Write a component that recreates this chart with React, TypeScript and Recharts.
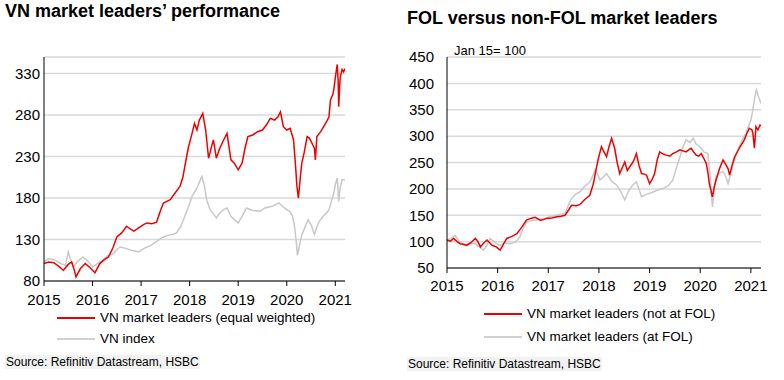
import { CartesianGrid, Line, LineChart, XAxis, YAxis } from 'recharts';

type Pt = [number, number];

const yearTicks = [2015, 2016, 2017, 2018, 2019, 2020, 2021];
const perfTicks = [80, 130, 180, 230, 280, 330];
const folTicks = [50, 100, 150, 200, 250, 300, 350, 400, 450];

// left: VN market leaders (equal weighted)
const leadersEqual: Pt[] = [
  [2015.0, 101], [2015.1, 103], [2015.2, 102], [2015.3, 98], [2015.4, 93], [2015.5, 100], [2015.57, 103],
  [2015.62, 94], [2015.66, 85], [2015.75, 95], [2015.85, 101], [2015.95, 96], [2016.05, 90], [2016.15, 101],
  [2016.25, 106], [2016.33, 109], [2016.42, 120], [2016.5, 133], [2016.6, 138], [2016.7, 146], [2016.77, 143],
  [2016.85, 140], [2016.95, 144], [2017.05, 148], [2017.12, 150], [2017.22, 149], [2017.32, 151], [2017.4, 165],
  [2017.46, 174], [2017.53, 176], [2017.6, 178], [2017.7, 186], [2017.8, 194], [2017.86, 205], [2017.9, 218],
  [2017.97, 240], [2018.05, 258], [2018.1, 270], [2018.15, 262], [2018.2, 274], [2018.27, 282], [2018.33, 262],
  [2018.39, 228], [2018.45, 242], [2018.49, 250], [2018.55, 228], [2018.62, 240], [2018.7, 250], [2018.77, 258],
  [2018.85, 226], [2018.92, 222], [2019.0, 214], [2019.08, 222], [2019.14, 240], [2019.2, 254], [2019.3, 256],
  [2019.4, 260], [2019.5, 262], [2019.58, 268], [2019.66, 276], [2019.75, 274], [2019.82, 278], [2019.87, 284],
  [2019.93, 266], [2020.0, 262], [2020.07, 264], [2020.14, 250], [2020.18, 220], [2020.21, 194], [2020.24, 180],
  [2020.28, 205], [2020.31, 222], [2020.36, 235], [2020.42, 254], [2020.47, 252], [2020.52, 246], [2020.57, 240],
  [2020.59, 226], [2020.62, 254], [2020.7, 260], [2020.76, 266], [2020.82, 272], [2020.87, 278], [2020.9, 298],
  [2020.95, 305], [2020.97, 311], [2021.0, 325], [2021.04, 341], [2021.06, 320], [2021.07, 290], [2021.1, 325],
  [2021.14, 335], [2021.17, 332], [2021.2, 336],
];

// left: VN index
const vnIndex: Pt[] = [
  [2015.0, 103], [2015.1, 107], [2015.23, 105], [2015.35, 101], [2015.44, 99], [2015.5, 115], [2015.6, 97],
  [2015.7, 104], [2015.8, 109], [2015.9, 104], [2016.0, 97], [2016.1, 101], [2016.2, 105], [2016.3, 110],
  [2016.43, 113], [2016.5, 118], [2016.57, 121], [2016.7, 119], [2016.8, 117], [2016.95, 115], [2017.05, 119],
  [2017.2, 123], [2017.3, 127], [2017.4, 131], [2017.46, 133], [2017.55, 135], [2017.65, 136], [2017.73, 138],
  [2017.82, 146], [2017.9, 158], [2017.98, 170], [2018.05, 182], [2018.15, 192], [2018.25, 206], [2018.3, 196],
  [2018.35, 178], [2018.42, 166], [2018.5, 160], [2018.55, 156], [2018.62, 162], [2018.7, 166], [2018.77, 168],
  [2018.85, 158], [2018.92, 154], [2019.0, 150], [2019.08, 158], [2019.17, 168], [2019.3, 165], [2019.45, 164],
  [2019.55, 168], [2019.7, 170], [2019.84, 174], [2019.95, 168], [2020.06, 164], [2020.12, 158], [2020.16, 146],
  [2020.2, 125], [2020.22, 111], [2020.26, 122], [2020.3, 134], [2020.37, 144], [2020.44, 154], [2020.5, 148],
  [2020.57, 136], [2020.62, 145], [2020.67, 152], [2020.75, 158], [2020.82, 162], [2020.87, 166], [2020.92, 176],
  [2020.97, 186], [2021.0, 196], [2021.04, 204], [2021.07, 176], [2021.1, 192], [2021.14, 202], [2021.2, 202],
];

// right: not at FOL
const notAtFol: Pt[] = [
  [2015.0, 103], [2015.07, 101], [2015.13, 106], [2015.2, 100], [2015.26, 96], [2015.33, 95], [2015.39, 93],
  [2015.47, 98], [2015.56, 106], [2015.61, 100], [2015.66, 90], [2015.72, 97], [2015.79, 103], [2015.85, 97],
  [2015.89, 93], [2015.97, 90], [2016.05, 84], [2016.12, 96], [2016.18, 106], [2016.28, 110], [2016.38, 115],
  [2016.48, 128], [2016.57, 141], [2016.65, 144], [2016.74, 146], [2016.85, 140], [2016.97, 144], [2017.07, 145],
  [2017.17, 147], [2017.25, 148], [2017.33, 150], [2017.4, 160], [2017.46, 169], [2017.55, 168], [2017.62, 170],
  [2017.72, 180], [2017.82, 188], [2017.89, 210], [2017.95, 240], [2017.99, 258], [2018.05, 280], [2018.1, 270],
  [2018.15, 261], [2018.2, 280], [2018.25, 296], [2018.31, 277], [2018.36, 250], [2018.41, 229], [2018.46, 240],
  [2018.51, 251], [2018.56, 235], [2018.61, 242], [2018.68, 252], [2018.74, 267], [2018.79, 245], [2018.84, 229],
  [2018.9, 228], [2018.94, 226], [2019.0, 210], [2019.05, 218], [2019.1, 229], [2019.15, 255], [2019.2, 270],
  [2019.27, 266], [2019.33, 264], [2019.4, 262], [2019.46, 267], [2019.53, 270], [2019.6, 274], [2019.66, 272],
  [2019.72, 270], [2019.77, 274], [2019.82, 277], [2019.87, 270], [2019.92, 264], [2019.97, 262], [2020.02, 267],
  [2020.07, 258], [2020.12, 248], [2020.15, 232], [2020.18, 210], [2020.24, 185], [2020.28, 205], [2020.31, 216],
  [2020.38, 238], [2020.45, 255], [2020.51, 245], [2020.55, 238], [2020.58, 226], [2020.63, 245], [2020.68, 261],
  [2020.72, 268], [2020.77, 277], [2020.82, 285], [2020.87, 293], [2020.92, 305], [2020.97, 315], [2021.02, 312],
  [2021.04, 305], [2021.07, 277], [2021.1, 318], [2021.14, 312], [2021.18, 321], [2021.2, 319],
];

// right: at FOL
const atFol: Pt[] = [
  [2015.0, 103], [2015.08, 106], [2015.16, 112], [2015.24, 100], [2015.33, 93], [2015.44, 97], [2015.56, 96],
  [2015.64, 90], [2015.72, 84], [2015.8, 95], [2015.85, 106], [2015.95, 98], [2016.05, 93], [2016.15, 98],
  [2016.25, 96], [2016.35, 99], [2016.44, 109], [2016.5, 125], [2016.57, 137], [2016.67, 140], [2016.77, 141],
  [2016.9, 143], [2017.03, 147], [2017.15, 150], [2017.25, 152], [2017.33, 153], [2017.4, 170], [2017.46, 182],
  [2017.54, 190], [2017.62, 194], [2017.72, 205], [2017.82, 213], [2017.88, 225], [2017.92, 236], [2017.97, 228],
  [2018.02, 217], [2018.08, 222], [2018.15, 229], [2018.25, 215], [2018.35, 207], [2018.43, 195], [2018.51, 179],
  [2018.58, 195], [2018.66, 207], [2018.74, 213], [2018.79, 200], [2018.84, 185], [2018.95, 190], [2019.07, 194],
  [2019.17, 198], [2019.27, 201], [2019.37, 206], [2019.46, 217], [2019.53, 240], [2019.6, 261], [2019.66, 280],
  [2019.72, 293], [2019.8, 288], [2019.86, 296], [2019.92, 285], [2019.99, 280], [2020.07, 270], [2020.15, 267],
  [2020.19, 230], [2020.24, 166], [2020.28, 200], [2020.31, 223], [2020.38, 230], [2020.45, 233], [2020.5, 225],
  [2020.55, 210], [2020.6, 228], [2020.64, 242], [2020.7, 262], [2020.77, 280], [2020.83, 292], [2020.9, 305],
  [2020.95, 318], [2021.0, 330], [2021.03, 345], [2021.08, 375], [2021.11, 388], [2021.16, 372], [2021.2, 362],
];

const toRows = (pts: Pt[]) => pts.map(([x, y]) => ({ x, y }));

const FONT = '"Liberation Sans", Arial, sans-serif';
const RED = '#ee0000';
const GREY = '#c8c8c8';
const tickStyle = { fill: '#000', fontSize: 15, fontFamily: FONT };

function LegendRow({ color, label, top, left }: { color: string; label: string; top: number; left: number }) {
  return (
    <div style={{ position: 'absolute', top, left, display: 'flex', alignItems: 'center', fontSize: 13.5, whiteSpace: 'nowrap' }}>
      <span style={{ width: 38, height: 0, borderTop: `2px solid ${color}`, marginRight: 5 }} />
      <span>{label}</span>
    </div>
  );
}

function Source({ left, top }: { left: number; top: number }) {
  return (
    <div style={{ position: 'absolute', left, top, fontSize: 12, background: '#f2f2f2', padding: '0 1px', whiteSpace: 'nowrap' }}>
      Source: Refinitiv Datastream, HSBC
    </div>
  );
}

export default function App() {
  return (
    <div style={{ position: 'absolute', left: 0, top: 0, width: 784, height: 380, background: '#fff', fontFamily: FONT, color: '#000' }}>
      <div style={{ position: 'absolute', left: 5, top: 1, fontSize: 18, fontWeight: 'bold', whiteSpace: 'nowrap' }}>VN market leaders’ performance</div>
      <div style={{ position: 'absolute', left: 407, top: 8, fontSize: 18, fontWeight: 'bold', whiteSpace: 'nowrap' }}>FOL versus non-FOL market leaders</div>

      <div style={{ position: 'absolute', left: 0, top: 0 }}>
        <LineChart width={390} height={311} margin={{ top: 57, right: 45, bottom: 0, left: 4 }}>
          <CartesianGrid horizontal vertical={false} stroke="#d9d9d9" strokeWidth={1.5} />
          <XAxis type="number" dataKey="x" domain={[2015, 2021.2]} ticks={yearTicks} allowDataOverflow
            height={30} stroke="#000" tickSize={5} tickMargin={8} tick={tickStyle} />
          <YAxis type="number" domain={[80, 350]} ticks={perfTicks} allowDataOverflow width={40}
            stroke="#000" tickLine={false} tickSize={0} tickMargin={4} tick={tickStyle} />
          <Line data={toRows(vnIndex)} dataKey="y" stroke={GREY} strokeWidth={1.5} dot={false} isAnimationActive={false} />
          <Line data={toRows(leadersEqual)} dataKey="y" stroke={RED} strokeWidth={1.5} dot={false} isAnimationActive={false} />
        </LineChart>
      </div>

      <div style={{ position: 'absolute', left: 390, top: 0 }}>
        <LineChart width={394} height={298} margin={{ top: 57, right: 23, bottom: 0, left: 17 }}>
          <CartesianGrid horizontal vertical={false} stroke="#d9d9d9" strokeWidth={1.5} />
          <XAxis type="number" dataKey="x" domain={[2015, 2021.2]} ticks={yearTicks} allowDataOverflow
            height={30} stroke="#000" tickSize={5} tickMargin={7} tick={tickStyle} />
          <YAxis type="number" domain={[50, 450]} ticks={folTicks} allowDataOverflow width={40}
            stroke="#000" tickLine={false} tickSize={0} tickMargin={13} tick={tickStyle} />
          <Line data={toRows(atFol)} dataKey="y" stroke={GREY} strokeWidth={1.5} dot={false} isAnimationActive={false} />
          <Line data={toRows(notAtFol)} dataKey="y" stroke={RED} strokeWidth={1.5} dot={false} isAnimationActive={false} />
        </LineChart>
      </div>
      <div style={{ position: 'absolute', left: 454, top: 43, fontSize: 13 }}>Jan 15= 100</div>

      <LegendRow color={RED} label="VN market leaders (equal weighted)" left={57} top={310} />
      <LegendRow color="#d0d0d0" label="VN index" left={57} top={331} />
      <Source left={5} top={355} />

      <LegendRow color={RED} label="VN market leaders (not at FOL)" left={484} top={306} />
      <LegendRow color="#d0d0d0" label="VN market leaders (at FOL)" left={484} top={329} />
      <Source left={407} top={357} />
    </div>
  );
}
